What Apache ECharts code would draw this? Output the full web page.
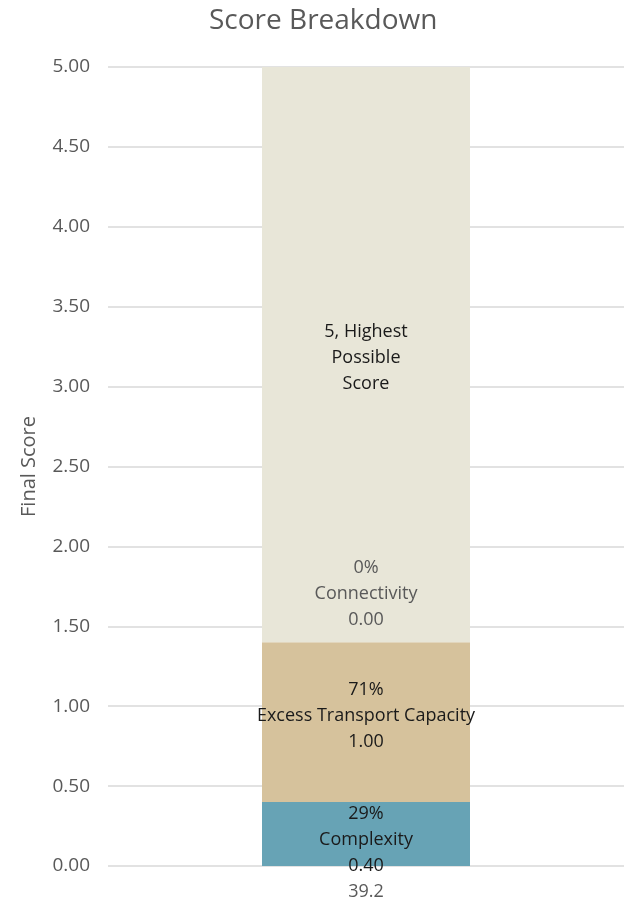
<!DOCTYPE html>
<html>
<head>
<meta charset="utf-8">
<script src="https://cdn.jsdelivr.net/npm/echarts@6/dist/echarts.min.js"></script>
<style>
  html, body { margin: 0; padding: 0; background: #fff; }
  #chart { width: 624px; height: 902px; }
</style>
</head>
<body>
<div id="chart"></div>
<script>
const categories = ['39.2'];
const seriesNames = ['Complexity', 'Excess Transport Capacity', 'Connectivity', 'Highest'];
const values = [0.40, 1.00, 0.00, 3.60];
const shares = ['29%', '71%', '0%', ''];
const colors = ['#67a3b5', '#d6c29c', '#e8e6d8', '#e8e6d8'];

const font = 'Open Sans';

// label text per segment, the last one is the filler up to 5
const labelFor = (i) => {
  if (i === 3) return '5, Highest\nPossible\nScore';
  return `${shares[i]}\n${seriesNames[i]}\n${values[i].toFixed(2)}`;
};
const labelColor = ['#1a1a1a', '#1a1a1a', '#595959', '#1a1a1a'];
const labelOffset = [[0, 6], [0, -6], [0, -48], [0, 3]];

const series = seriesNames.map((name, i) => ({
  name,
  type: 'bar',
  stack: 'score',
  barWidth: 208,
  data: [values[i]],
  itemStyle: { color: colors[i] },
  label: {
    show: true,
    position: 'inside',
    formatter: () => labelFor(i),
    color: labelColor[i],
    fontFamily: font,
    fontSize: 18,
    lineHeight: 26,
    offset: labelOffset[i],
  },
  emphasis: { disabled: true },
}));

const myChart = echarts.init(document.getElementById('chart'));
myChart.setOption({
  animation: false,
  title: {
    text: 'Score Breakdown',
    left: 204,
    top: 2,
    textStyle: { fontFamily: font, fontSize: 28, fontWeight: 'normal', color: '#595959' },
  },
  grid: { left: 108, right: -8, top: 67, bottom: 36 },
  xAxis: {
    type: 'category',
    data: categories,
    axisLine: { show: false },
    axisTick: { show: false },
    axisLabel: { color: '#595959', fontFamily: font, fontSize: 18, margin: 17 },
  },
  yAxis: {
    type: 'value',
    min: 0,
    max: 5,
    interval: 0.5,
    name: 'Final Score',
    nameLocation: 'middle',
    nameGap: 69,
    nameTextStyle: { color: '#595959', fontFamily: font, fontSize: 20 },
    axisLabel: {
      color: '#595959',
      fontFamily: font,
      fontSize: 19,
      margin: 18,
      formatter: (v) => v.toFixed(2),
    },
    splitLine: { lineStyle: { color: '#d9d9d9', width: 1.5 } },
  },
  series,
});
</script>
</body>
</html>
